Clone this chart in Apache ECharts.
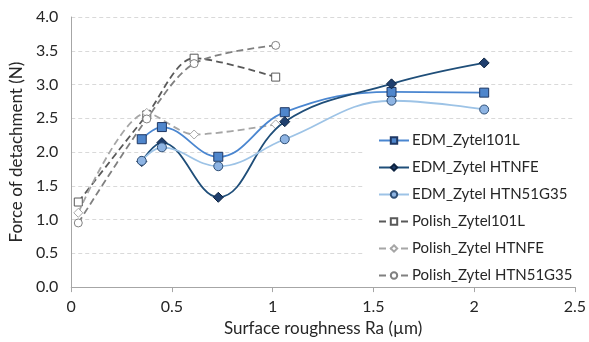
<!DOCTYPE html>
<html lang="en">
<head>
    <meta charset="UTF-8">
    <title>Force of detachment</title>
    <script src="https://cdn.jsdelivr.net/npm/echarts@6/dist/echarts.min.js"></script>
    <style>
        html, body { margin: 0; padding: 0; background: #fff; }
    </style>
</head>
<body>
<div id="main" style="width: 589px;height:342px;"></div>
<script type="text/javascript">
    // roughness (x) for each group of samples
    var edmRa = [0.35, 0.45, 0.73, 1.06, 1.59, 2.05];
    var polishRa = [0.035, 0.375, 0.61, 1.015];

    // force of detachment (N)
    var edm101L = [2.19, 2.37, 1.93, 2.59, 2.89, 2.88];
    var edmHTNFE = [1.86, 2.14, 1.33, 2.45, 3.01, 3.32];
    var edmHTN51G35 = [1.87, 2.07, 1.79, 2.19, 2.76, 2.63];
    var polish101L = [1.26, 2.55, 3.39, 3.11];
    var polishHTNFE = [1.10, 2.58, 2.26, 2.41];
    var polishHTN51G35 = [0.95, 2.49, 3.31, 3.58];

    function pairs(xs, ys) {
        var out = [];
        for (var i = 0; i < xs.length; i++) out.push([xs[i], ys[i]]);
        return out;
    }

    var font = 'Lato, "Open Sans", sans-serif';

    function mkSeries(name, xs, ys, color, symbol, size, fill, border, dashed) {
        return {
            name: name,
            type: 'line',
            smooth: dashed ? 0.3 : 0.4,
            data: pairs(xs, ys),
            symbol: symbol,
            symbolSize: size,
            lineStyle: {color: color, width: 1.8, type: dashed ? [7, 4] : 'solid'},
            itemStyle: {color: fill, borderColor: border, borderWidth: 1},
            emphasis: {disabled: true},
            z: dashed ? 2 : 3
        };
    }

    var myChart = echarts.init(document.getElementById('main'));
    var option = {
        animation: false,
        grid: {left: 71, right: 12, top: 17, bottom: 54},
        xAxis: {
            type: 'value',
            min: 0, max: 2.5, interval: 0.5,
            name: 'Surface roughness Ra (\u00b5m)',
            nameLocation: 'middle',
            nameGap: 32,
            nameTextStyle: {fontFamily: font, fontSize: 17, color: '#262626'},
            axisLine: {lineStyle: {color: '#a6a6a6'}},
            axisTick: {show: true, length: 5, lineStyle: {color: '#a6a6a6'}},
            axisLabel: {fontFamily: font, fontSize: 16, color: '#262626', margin: 12},
            splitLine: {show: false}
        },
        yAxis: {
            type: 'value',
            min: 0, max: 4, interval: 0.5,
            name: 'Force of detachment (N)',
            nameLocation: 'middle',
            nameGap: 44,
            nameTextStyle: {fontFamily: font, fontSize: 17, color: '#262626'},
            axisLine: {show: true, lineStyle: {color: '#a6a6a6'}},
            axisTick: {show: false},
            axisLabel: {
                fontFamily: font, fontSize: 16, color: '#262626', margin: 13,
                formatter: function (v) { return v.toFixed(1); }
            },
            splitLine: {lineStyle: {color: '#d9d9d9', type: [4, 3]}}
        },
        legend: {
            orient: 'vertical',
            left: 364,
            top: 129,
            itemWidth: 30,
            itemHeight: 8,
            itemGap: 12,
            backgroundColor: '#fff',
            padding: [4, 12, 4, 14],
            textStyle: {fontFamily: font, fontSize: 15, color: '#262626', padding: [0, 0, 0, -2]},
            data: ['EDM_Zytel101L', 'EDM_Zytel HTNFE', 'EDM_Zytel HTN51G35',
                'Polish_Zytel101L', 'Polish_Zytel HTNFE', 'Polish_Zytel HTN51G35']
        },
        series: [
            mkSeries('EDM_Zytel101L', edmRa, edm101L, '#4a86d0', 'rect', 9, '#4f86cc', '#1f3864', false),
            mkSeries('EDM_Zytel HTNFE', edmRa, edmHTNFE, '#1f4e79', 'diamond', 10, '#1f3f6e', '#0d2340', false),
            mkSeries('EDM_Zytel HTN51G35', edmRa, edmHTN51G35, '#9dc3e6', 'circle', 9, '#8eb4e3', '#2f4f75', false),
            mkSeries('Polish_Zytel101L', polishRa, polish101L, '#595959', 'rect', 8, '#fff', '#595959', true),
            mkSeries('Polish_Zytel HTNFE', polishRa, polishHTNFE, '#a6a6a6', 'diamond', 9, '#fff', '#a6a6a6', true),
            mkSeries('Polish_Zytel HTN51G35', polishRa, polishHTN51G35, '#808080', 'circle', 8, '#fff', '#808080', true)
        ]
    };
    myChart.setOption(option);
</script>
</body>
</html>
